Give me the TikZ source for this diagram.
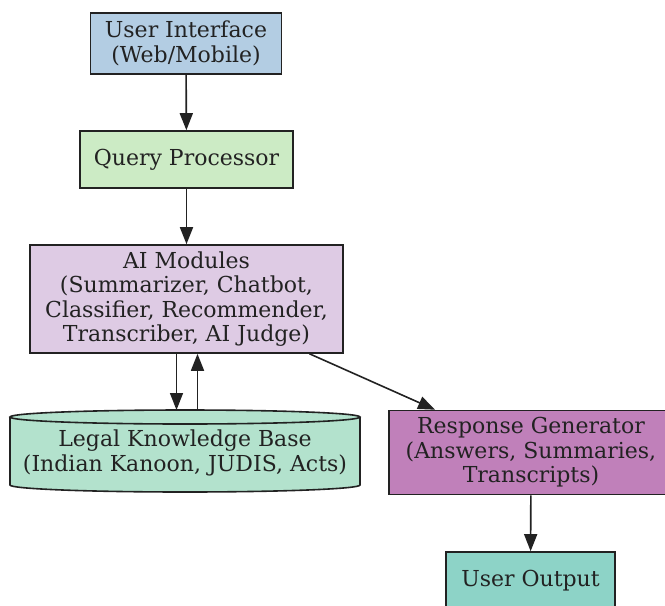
\documentclass[tikz,border=0pt]{standalone}
\usepackage{fontspec}
\setmainfont{DejaVu Serif}
\usetikzlibrary{arrows.meta}

\definecolor{uiblue}{HTML}{B3CDE3}
\definecolor{qpgreen}{HTML}{CCEBC5}
\definecolor{aililac}{HTML}{DECBE4}
\definecolor{kbmint}{HTML}{B3E2CD}
\definecolor{rgpurple}{HTML}{C080BA}
\definecolor{uoteal}{HTML}{8DD3C7}
\definecolor{inkgray}{HTML}{222222}

\tikzset{
  block/.style={draw=inkgray, line width=0.8pt, align=center, inner sep=0pt,
    text=inkgray, font=\fontsize{11pt}{12.3pt}\selectfont},
  label text/.style={align=center, inner sep=0pt, text=inkgray,
    font=\fontsize{11pt}{12.3pt}\selectfont},
  arr/.style={-{Triangle[length=8.5pt,width=6.5pt]}, draw=inkgray, line width=0.8pt}
}

\begin{document}
\begin{tikzpicture}[x=0.5pt,y=-0.5pt]
\useasboundingbox (0,0) rectangle (665,606);

\node[block, fill=uiblue, minimum width=95.5pt, minimum height=30.5pt] (ui) at (186,43.5)
  {User Interface\\(Web/Mobile)};

\node[block, fill=qpgreen, minimum width=106.5pt, minimum height=28.5pt] (qp) at (186.5,159.5)
  {Query Processor};

\node[block, fill=aililac, minimum width=156.5pt, minimum height=54pt] (ai) at (186.5,299)
  {AI Modules\\(Summarizer, Chatbot,\\Classifier, Recommender,\\Transcriber, AI Judge)};

% knowledge base drum
\fill[kbmint] (10,417) rectangle (360,485);
\fill[kbmint] (185,485) ellipse [x radius=175, y radius=7];
\draw[inkgray, line width=0.8pt] (10,417) -- (10,485)
  arc [start angle=180, end angle=0, x radius=175, y radius=7] -- (360,417);
\draw[inkgray, line width=0.8pt, fill=kbmint] (185,417) ellipse [x radius=175, y radius=7];
\coordinate (kbtop) at (185,410);
\node[label text] (kb) at (185,453)
  {Legal Knowledge Base\\(Indian Kanoon, JUDIS, Acts)};

\node[block, fill=rgpurple, minimum width=142pt, minimum height=42pt] (rg) at (531,452.5)
  {Response Generator\\(Answers, Summaries,\\Transcripts)};

\node[block, fill=uoteal, minimum width=84.5pt, minimum height=29pt] (uo) at (530.5,581)
  {User Output};

% flow
\draw[arr] (ui) -- (qp);
\draw[arr] (qp) -- (ai);
\draw[arr] ([xshift=-5pt]ai.south) -- ([xshift=-5pt]ai.south |- kbtop);
\draw[arr] ([xshift=5.5pt]ai.south |- kbtop) -- ([xshift=5.5pt]ai.south);
\draw[arr] (ai) -- (rg);
\draw[arr] (rg) -- (uo);
\end{tikzpicture}
\end{document}
